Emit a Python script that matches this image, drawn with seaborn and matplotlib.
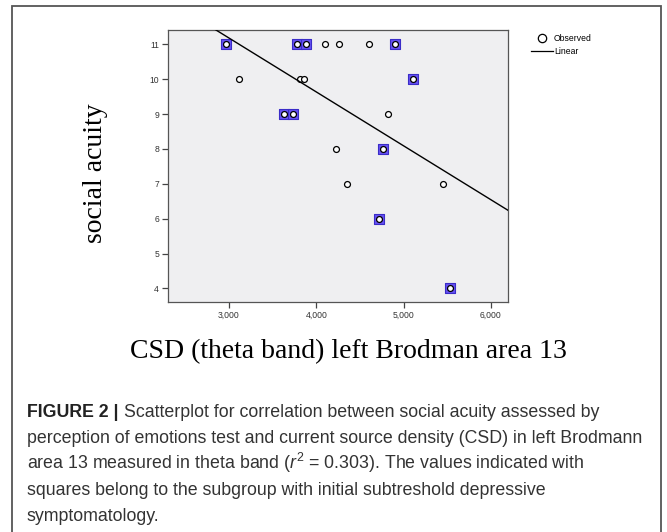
import matplotlib
matplotlib.use("Agg")
import matplotlib.pyplot as plt
import seaborn as sns
import numpy as np
import pandas as pd
from matplotlib.lines import Line2D
from matplotlib.patches import Rectangle
from matplotlib.ticker import FuncFormatter

# ---- data ----
csd_theta = [2966, 3774, 3881, 4906, 5104, 3633, 3728, 4765, 4719, 5535,
             3114, 3812, 3862, 4102, 4258, 4601, 4822, 4224, 4357, 5451]
social_acuity = [11, 11, 11, 11, 10, 9, 9, 8, 6, 4,
                 10, 10, 10, 11, 11, 11, 9, 8, 7, 7]
depressive_subgroup = [True] * 10 + [False] * 10
x_ticks = [3000, 4000, 5000, 6000]
y_ticks = [4, 5, 6, 7, 8, 9, 10, 11]

df = pd.DataFrame({"csd": csd_theta, "acuity": social_acuity,
                   "sub": depressive_subgroup})

W, H = 667, 532
fig = plt.figure(figsize=(W / 100, H / 100), dpi=100)
fig.patch.set_facecolor("white")

def fx(px):
    return px / W

def fy(py):
    return 1 - py / H

# outer frame
fig.patches.append(Rectangle((fx(12), fy(545)), fx(661) - fx(12), fy(6) - fy(545),
                             transform=fig.transFigure, fill=False,
                             edgecolor="#555555", linewidth=1.3, clip_on=False))

ax = fig.add_axes([fx(168), fy(302), fx(508) - fx(168), fy(30) - fy(302)])
ax.set_facecolor("#efeff1")
ax.set_xlim(2302, 6195)
ax.set_ylim(3.61, 11.41)

# subgroup squares (behind)
sns.scatterplot(data=df[df["sub"]], x="csd", y="acuity", ax=ax, marker="s",
                s=42, color="#6650f2", edgecolor="#3a2cc8", linewidth=0.8,
                legend=False, zorder=2)
# all observed points
sns.scatterplot(data=df, x="csd", y="acuity", ax=ax, marker="o", s=18,
                facecolor="white", edgecolor="black", linewidth=0.9,
                legend=False, zorder=3)
# linear fit across the whole axis
sns.regplot(data=df, x="csd", y="acuity", ax=ax, scatter=False, ci=None,
            truncate=False, line_kws={"color": "black", "linewidth": 1.0,
                                      "zorder": 4})
ax.set_xlim(2302, 6195)
ax.set_ylim(3.61, 11.41)

ax.set_xticks(x_ticks)
ax.set_yticks(y_ticks)
ax.xaxis.set_major_formatter(FuncFormatter(lambda v, p: f"{int(v):,}"))
ax.tick_params(axis="both", direction="out", length=4.5, width=0.9,
               color="#444444", labelsize=6.2, labelcolor="#333333", pad=2)
for lab in ax.get_xticklabels() + ax.get_yticklabels():
    lab.set_fontfamily("Liberation Sans")
for sp in ax.spines.values():
    sp.set_color("#555555")
    sp.set_linewidth(0.9)
ax.set_xlabel("")
ax.set_ylabel("")

fig.text(fx(95), fy(173), "social acuity", rotation=90, ha="center",
         va="center", fontsize=20, family="Liberation Serif", color="black")
fig.text(fx(348), fy(352), "CSD (theta band) left Brodman area 13",
         ha="center", va="center", fontsize=20, family="Liberation Serif",
         color="black")

# legend
handles = [Line2D([], [], marker="o", linestyle="none", markersize=6,
                  markerfacecolor="white", markeredgecolor="black",
                  markeredgewidth=0.9),
           Line2D([], [], color="black", linewidth=0.9)]
fig.legend(handles, ["Observed", "Linear"], loc="upper left",
           bbox_to_anchor=(fx(531), fy(34)), frameon=False,
           prop={"family": "Liberation Sans", "size": 6.2},
           handlelength=2.5, handletextpad=0.15, borderpad=0,
           borderaxespad=0, labelspacing=0.45)

# caption
plt.rcParams["mathtext.fontset"] = "custom"
plt.rcParams["mathtext.rm"] = "Liberation Sans"
plt.rcParams["mathtext.it"] = "Liberation Sans:italic"
cap_size = 12.8
cap_col = "#333333"
fig.canvas.draw()
r = fig.canvas.get_renderer()
base0 = 417
step = 26
t0 = fig.text(fx(27), fy(base0), "FIGURE 2 |", fontsize=cap_size,
              fontweight="bold", family="Liberation Sans", color="#222222",
              va="baseline", ha="left")
bb = t0.get_window_extent(renderer=r)
fig.text(fx(bb.x1 + 6), fy(base0), "Scatterplot for correlation between social acuity assessed by",
         fontsize=cap_size, family="Liberation Sans", color=cap_col,
         va="baseline", ha="left")
lines = ["perception of emotions test and current source density (CSD) in left Brodmann",
         r"area 13 measured in theta band ($r^2$ = 0.303). The values indicated with",
         "squares belong to the subgroup with initial subtreshold depressive",
         "symptomatology."]
for i, ln in enumerate(lines):
    fig.text(fx(27), fy(base0 + step * (i + 1)), ln, fontsize=cap_size,
             family="Liberation Sans", color=cap_col, va="baseline", ha="left")

fig.savefig("out.png", dpi=100)
